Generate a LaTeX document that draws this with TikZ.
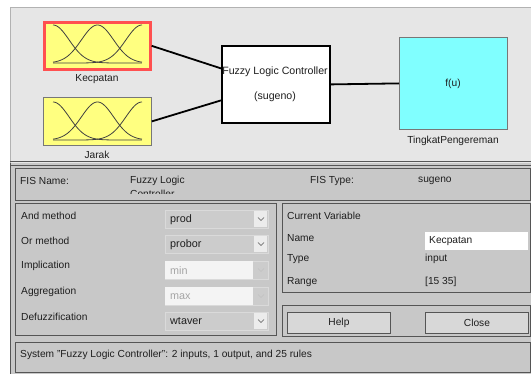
\documentclass[tikz,border=0pt]{standalone}
\usepackage{fontspec}
\setmainfont{Liberation Sans}
\definecolor{topbg}{RGB}{230,230,230}
\definecolor{lowbg}{RGB}{200,200,200}
\definecolor{mfyellow}{RGB}{255,255,128}
\definecolor{outcyan}{RGB}{128,255,255}
\definecolor{selred}{RGB}{255,80,80}
\definecolor{txt}{RGB}{30,30,30}
\definecolor{framec}{RGB}{85,85,85}
\definecolor{ddfill}{RGB}{204,204,204}
\definecolor{ddline}{RGB}{218,218,218}
\definecolor{arrowbg}{RGB}{236,236,236}
\definecolor{disfill}{RGB}{244,244,244}
\definecolor{distxt}{RGB}{165,165,165}
\definecolor{btnfill}{RGB}{216,216,216}
\begin{document}
\begin{tikzpicture}[x=1pt,y=-1pt,
  every node/.style={font=\fontsize{10.2}{11}\selectfont, text=txt, inner sep=0pt},
  lbl/.style={anchor=west},
  toplbl/.style={font=\fontsize{10.2}{11}\selectfont},
  mfbox/.style={draw=framec!80, line width=0.8pt, fill=mfyellow, minimum width=108pt, minimum height=48pt, anchor=north west},
  mfcurve/.style={draw=black!75, line width=0.8pt},
  wire/.style={draw=black, line width=1.8pt},
  panel/.style={draw=framec, line width=0.9pt},
  ddbox/.style={draw=ddline, line width=0.8pt, fill=ddfill},
  chev/.style={draw=framec, line width=0.6pt},
  dischev/.style={draw=distxt!70, line width=0.6pt},
  ddtext/.style={anchor=west, font=\fontsize{10.8}{12}\selectfont},
  button/.style={draw=framec, line width=0.9pt, fill=btnfill, minimum width=103pt, minimum height=21pt, anchor=north west}
]
\useasboundingbox (0,0) rectangle (531,374);
\fill[white] (0,0) rectangle (531,374);
% top area
\fill[topbg] (10,7) rectangle (531,163);
\draw[black!30, line width=0.8pt] (10,163) -- (10,7) -- (531,7);
% lower area
\fill[lowbg] (10,163) rectangle (531,374);
\draw[framec, line width=1pt] (10,162) -- (531,162);
\draw[framec, line width=0.8pt] (10,165) -- (531,165);
\draw[framec, line width=0.8pt] (10,163) -- (10,374);

% input / output blocks
\node[mfbox, draw=selred, line width=2.6pt, minimum width=106pt, minimum height=47pt] (kec) at (43,21) {};
\node[mfbox] (jar) at (43,97) {};
\node[draw=black, line width=1.8pt, fill=white, minimum width=108pt, minimum height=77pt, anchor=north west] (flc) at (221,45) {};
\node[draw=framec!80, line width=0.8pt, fill=outcyan, minimum width=108pt, minimum height=92pt, anchor=north west] (out) at (399,37) {};

\foreach \yy in {0,77}{
  \draw[mfcurve] plot[domain=53:142, samples=80, smooth] (\x, {63+\yy-38*exp(-((\x-53)*(\x-53))/520)});
  \draw[mfcurve] plot[domain=53:142, samples=80, smooth] (\x, {63+\yy-38*exp(-((\x-97.5)*(\x-97.5))/520)});
  \draw[mfcurve] plot[domain=53:142, samples=80, smooth] (\x, {63+\yy-38*exp(-((\x-142)*(\x-142))/520)});
}

\node[toplbl] (kecl) at (97,79) {Kecpatan};
\node[toplbl] (jarl) at (97,155) {Jarak};
\node[font=\fontsize{10.6}{12}\selectfont] (flc1) at (275,72) {Fuzzy Logic Controller};
\node[font=\fontsize{10.6}{12}\selectfont] (flc2) at (275,97) {(sugeno)};
\node[toplbl] (fu) at (453,84) {f(u)};
\node[toplbl] (outl) at (453,141) {TingkatPengereman};

\draw[wire] (kec.east) -- ([yshift=16pt]flc.west);
\draw[wire] (jar.east) -- ([yshift=-16pt]flc.west);
\draw[wire] (flc.east) -- (out.west);

% FIS name panel
\draw[panel] (15,168) rectangle (530,200);
\node[lbl] (fisn) at (20,181) {FIS Name:};
\node[lbl] (fisv1) at (130,181) {Fuzzy Logic};
\begin{scope}
  \clip (120,170) rectangle (300,193.5);
  \node[lbl] (fisv2) at (130,193.5) {Controller};
\end{scope}
\node[lbl] (fist) at (310,181) {FIS Type:};
\node[lbl] (fistv) at (418,181) {sugeno};

% left panel
\draw[panel] (15,203) rectangle (276,335);
\node[lbl] (l1) at (21,216) {And method};
\node[lbl] (l2) at (21,241) {Or method};
\node[lbl] (l3) at (21,266) {Implication};
\node[lbl] (l4) at (21,292) {Aggregation};
\node[lbl] (l5) at (21,317) {Defuzzification};

% enabled dropdowns
\foreach \ya/\yb/\t/\n in {210/228/prod/d1, 235/253/probor/d2, 312/330/wtaver/d5}{
  \draw[ddbox] (165,\ya) rectangle (268,\yb);
  \fill[arrowbg] (254,\ya+1) rectangle (267.4,\yb-1);
  \draw[chev] (258,{(\ya+\yb)/2-1.5}) -- (261,{(\ya+\yb)/2+1.5}) -- (264,{(\ya+\yb)/2-1.5});
  \node[ddtext] (\n) at (170,{(\ya+\yb)/2+0.5}) {\t};
}
% disabled dropdowns
\foreach \ya/\yb/\t/\n in {261/279/min/d3, 287/305/max/d4}{
  \draw[ddbox] (165,\ya) rectangle (268,\yb);
  \fill[disfill] (165.4,\ya+0.4) rectangle (253,\yb-0.4);
  \draw[dischev] (258,{(\ya+\yb)/2-1.5}) -- (261,{(\ya+\yb)/2+1.5}) -- (264,{(\ya+\yb)/2-1.5});
  \node[ddtext, text=distxt] (\n) at (170,{(\ya+\yb)/2+0.5}) {\t};
}

% right upper panel
\draw[panel] (282,203) rectangle (530,292);
\node[lbl] (cv) at (287,216) {Current Variable};
\node[lbl] (nm) at (287,238) {Name};
\node[lbl] (ty) at (287,259) {Type};
\node[lbl] (rg) at (287,282) {Range};
\node[fill=white, minimum width=103pt, minimum height=18pt, anchor=north west] (namef) at (425,232) {};
\node[lbl] (namev) at (429,241) {Kecpatan};
\node[lbl] (tyv) at (425,259) {input};
\node[lbl] (rgv) at (425,282) {[15 35]};

% right lower panel with buttons
\draw[panel] (282,305) rectangle (530,336);
\node[button] (help) at (287,312) {};
\node (helpt) at (help.center) {Help};
\node[button] (close) at (425,312) {};
\node (closet) at (close.center) {Close};

% status bar
\draw[panel] (15,342) rectangle (530,372);
\node[lbl] (status) at (20,355) {System "Fuzzy Logic Controller": 2 inputs, 1 output, and 25 rules};
\end{tikzpicture}
\end{document}
